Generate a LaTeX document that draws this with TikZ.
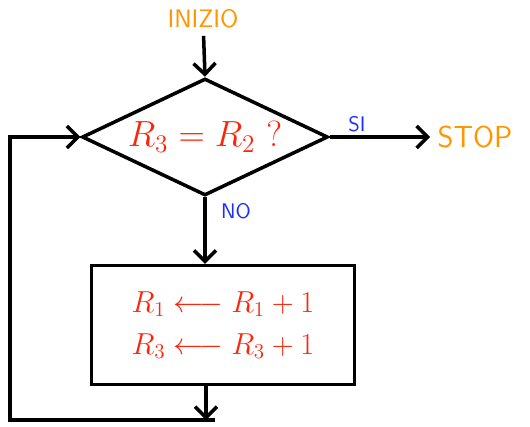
\documentclass[tikz,border=0pt]{standalone}
\usepackage{xcolor}
\usetikzlibrary{shapes.geometric,arrows.meta}
\definecolor{startorange}{RGB}{255,150,0}
\definecolor{condred}{RGB}{255,35,10}
\definecolor{branchblue}{RGB}{25,45,255}

\begin{document}
\begin{tikzpicture}[x=0.02cm,y=-0.02cm,line width=2pt,>={Straight Barb[length=2.2mm,width=4.4mm]}]
\useasboundingbox (0,0) rectangle (530,426);
\tikzset{endlabel/.style={text=startorange,font=\LARGE\sffamily},
  branchlabel/.style={text=branchblue,font=\large\sffamily}}
% Start
\node[endlabel,font=\Large\sffamily] (inizio) at (203,19) {INIZIO};
% Decision
\node[draw,diamond,aspect=2.1,inner sep=0pt,minimum width=4.92cm,minimum height=2.34cm,text=condred] (cond) at (205,137) {\huge$R_3 = R_2\ ?$};
\node[endlabel] (stop) at (475,137) {STOP};
\node[branchlabel] (si) at (357,124) {SI};
\node[branchlabel] (no) at (236,211) {NO};
% Increment
\node[draw,rectangle,minimum width=5.26cm,minimum height=2.38cm,text=condred,align=left,font=\LARGE] (incr) at (223,325) {$R_1 \longleftarrow R_1+1$\\[2pt]$R_3 \longleftarrow R_3+1$};
\coordinate (ret) at (206,420);
\coordinate (corner) at (10,420);
\draw[->] (inizio) -- (cond.north);
\draw[->] (cond.east) -- (stop.west);
\draw[->] (cond.south) -- (cond.south |- incr.north);
\draw[->] (ret |- incr.south) -- (ret);
\draw[->] ([xshift=0.18cm]ret) -- (corner) |- (cond.west);
\end{tikzpicture}
\end{document}
